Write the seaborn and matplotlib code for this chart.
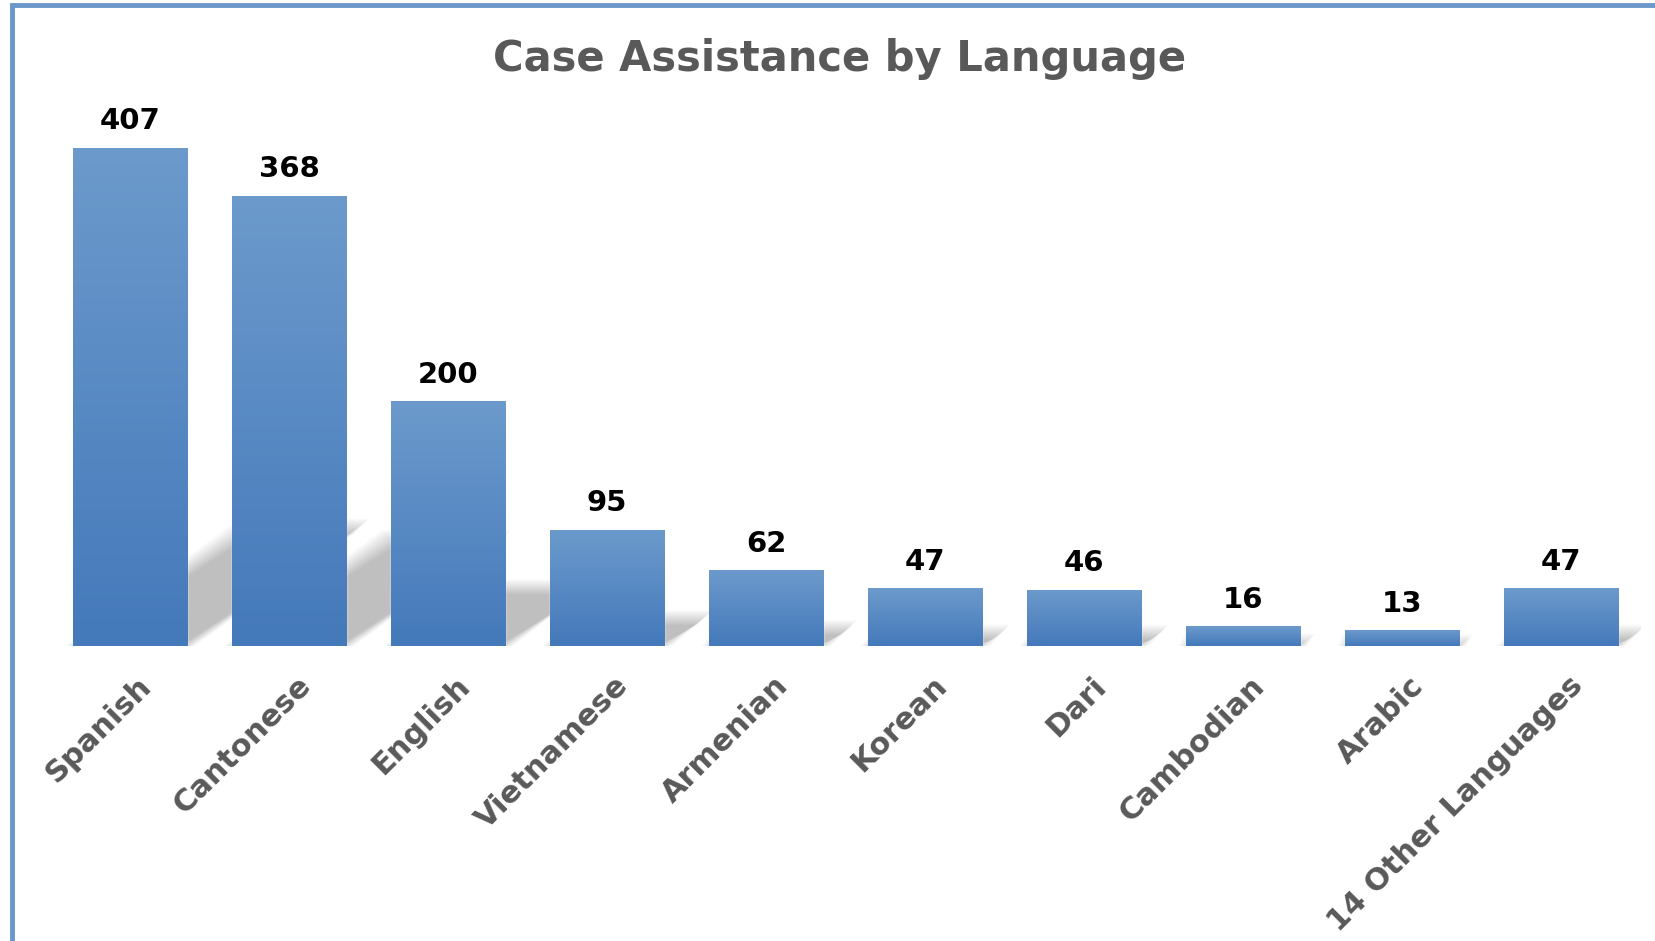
import matplotlib
matplotlib.use("Agg")
import matplotlib.pyplot as plt
import matplotlib.colors as mcolors
import matplotlib.transforms as mtrans
from matplotlib.patches import Rectangle, Polygon
import seaborn as sns
import numpy as np
import pandas as pd

# Data
languages = ["Spanish", "Cantonese", "English", "Vietnamese", "Armenian",
             "Korean", "Dari", "Cambodian", "Arabic", "14 Other Languages"]
cases = [407, 368, 200, 95, 62, 47, 46, 16, 13, 47]

df = pd.DataFrame({"language": languages, "cases": cases})

sns.set_style("white")
plt.rcParams["font.family"] = ["DejaVu Sans"]

W, H = 1655, 941
fig = plt.figure(figsize=(W / 100, H / 100), dpi=100)
ax = fig.add_axes([50.5 / W, (H - 646) / H, 1590 / W, 546 / H])

bar_w = 0.717
sns.barplot(data=df, x="language", y="cases", color="#5585C2",
            width=bar_w, saturation=1, ax=ax, zorder=3)

ax.set_xlim(-0.5, len(languages) - 0.5)
ax.set_ylim(0, 546 / 1.224)

# pixel sizes in data units
px_x = 1 / 159.0
px_y = 1 / 1.224

# soft perspective shadow cast up and to the right of each bar
for i, v in enumerate(cases):
    x0, x1 = i - bar_w / 2, i + bar_w / 2
    dx, dy = v * 0.0027, v * 0.24
    for e in np.linspace(-7, 8, 16):
        poly = Polygon([(x0 - e * px_x, 0), (x1 + e * px_x, 0),
                        (x1 + dx + e * px_x, dy + e * px_y),
                        (x0 + dx - e * px_x, dy + e * px_y)], closed=True,
                       facecolor="black", edgecolor="none", alpha=0.016, zorder=1)
        ax.add_patch(poly)

# gradient fill for the bars
cmap = mcolors.LinearSegmentedColormap.from_list("bar", ["#4479BA", "#6C9ACC"])
grad = np.linspace(0, 1, 256).reshape(-1, 1)
for bar in list(ax.patches):
    if not isinstance(bar, Rectangle) or bar.get_height() <= 0:
        continue
    x, y = bar.get_x(), bar.get_y()
    w, h = bar.get_width(), bar.get_height()
    im = ax.imshow(grad, cmap=cmap, aspect="auto", origin="lower",
                   extent=[x, x + w, y, y + h], zorder=4)
    im.set_clip_path(bar)

for i, v in enumerate(cases):
    ax.annotate(str(v), (i, v), xytext=(0, 9), textcoords="offset points",
                ha="center", va="bottom", fontsize=21, fontweight="bold",
                color="black", zorder=5)

ax.set_xlabel("")
ax.set_ylabel("")
ax.set_yticks([])
ax.tick_params(axis="x", length=0, pad=18)
ax.set_xticks(range(len(languages)))
ax.set_xticklabels(languages, rotation=45, ha="right", rotation_mode="anchor",
                   fontsize=22, fontweight="bold", color="#595959")
offset = mtrans.ScaledTranslation(5 / 72, 0, fig.dpi_scale_trans)
for lab in ax.get_xticklabels():
    lab.set_transform(lab.get_transform() + offset)
sns.despine(ax=ax, left=True, bottom=True)

fig.text(840 / W, 1 - 59 / H, "Case Assistance by Language", ha="center", va="center",
         fontsize=30, fontweight="bold", color="#595959")

# chart border (left and top edges visible)
fig.add_artist(Rectangle((12 / W, -0.2), 1.5, 1.2 - 5 / H, transform=fig.transFigure,
                         facecolor="none", edgecolor="#6A98CA", linewidth=3.5))

fig.savefig("out.png", dpi=100)
